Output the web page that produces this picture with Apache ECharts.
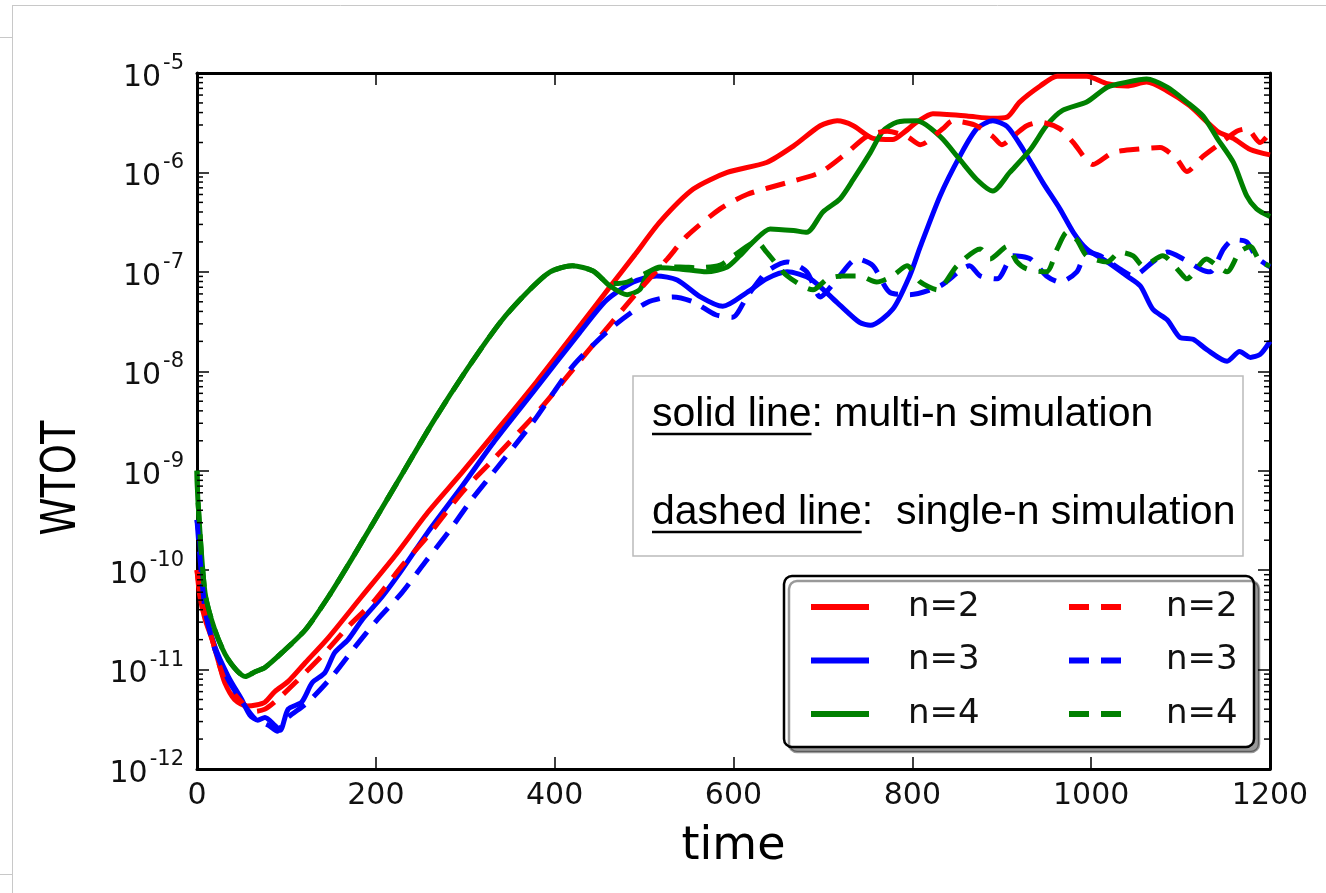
<!DOCTYPE html>
<html><head><meta charset="utf-8">
<script src="https://cdn.jsdelivr.net/npm/echarts@6/dist/echarts.min.js"></script>
<style>html,body{margin:0;padding:0;background:#fff}#chart{width:1326px;height:893px}</style>
</head><body><div id="chart"></div>
<script>
// ---- data (time, WTOT) ----
const tN2Multi = [0,3,9,17,25,31,42,56,66,76,87,102,121,147,184,221,258,296,333,380,430,462,490,518,555,593,637,667,697,716,734,756,778,790,805,823,861,890,906,920,943,962,995,1018,1040,1062,1085,1110,1141,1159,1178,1200];
const wN2Multi = [1.0e-10,5.6e-11,3.2e-11,2.0e-11,1.12e-11,7.4e-12,5.0e-12,4.3e-12,4.4e-12,4.7e-12,6.0e-12,7.6e-12,1.17e-11,2.1e-11,5.4e-11,1.38e-10,3.8e-10,9.5e-10,2.4e-9,7.9e-9,3.0e-8,7.1e-8,1.5e-7,3.2e-7,6.8e-7,1.0e-6,1.26e-6,1.84e-6,2.95e-6,3.3e-6,2.95e-6,2.2e-6,2.14e-6,2.5e-6,3.2e-6,3.9e-6,3.7e-6,3.5e-6,3.6e-6,5.1e-6,7.4e-6,9.3e-6,9.3e-6,7.8e-6,7.4e-6,8.1e-6,6.6e-6,4.7e-6,2.6e-6,2.2e-6,1.7e-6,1.5e-6];

const tN3Multi = [0,3,9,20,35,50,59,68,76,87,93,102,117,129,143,154,169,185,207,229,258,296,333,376,428,458,488,514,537,563,588,615,637,660,686,716,741,753,778,797,809,831,853,872,890,906,924,946,965,980,995,1018,1040,1055,1069,1085,1099,1114,1129,1152,1166,1178,1189,1200];
const wN3Multi = [3.2e-10,2.0e-10,4.3e-11,1.7e-11,8.5e-12,5.0e-12,3.5e-12,3.1e-12,3.3e-12,2.75e-12,2.45e-12,4.0e-12,4.7e-12,7.4e-12,9.3e-12,1.48e-11,2.0e-11,3.2e-11,5.4e-11,1.0e-10,2.4e-10,6.9e-10,2.0e-9,6.2e-9,2.45e-8,5.2e-8,7.9e-8,9.1e-8,8.3e-8,5.6e-8,4.5e-8,6.2e-8,8.5e-8,1.0e-7,8.5e-8,4.9e-8,3.1e-8,2.9e-8,4.2e-8,9.1e-8,1.8e-7,5.8e-7,1.45e-6,2.75e-6,3.3e-6,2.9e-6,1.7e-6,7.9e-7,4.3e-7,2.5e-7,1.7e-7,1.26e-7,9.1e-8,7.2e-8,4.2e-8,3.3e-8,2.2e-8,2.1e-8,1.66e-8,1.26e-8,1.58e-8,1.38e-8,1.48e-8,2.0e-8];

const tN4Multi = [0,1,9,20,35,54,65,76,95,121,147,173,199,229,264,302,339,369,395,420,443,462,481,495,503,518,540,570,593,607,622,641,667,682,700,719,734,753,767,783,805,831,853,872,890,909,932,950,968,995,1018,1040,1062,1085,1107,1125,1141,1159,1174,1185,1200];
const wN4Multi = [1.0e-9,5.1e-10,5.9e-11,2.5e-11,1.26e-11,8.5e-12,9.5e-12,1.05e-11,1.48e-11,2.5e-11,5.4e-11,1.29e-10,3.2e-10,9.1e-10,3.1e-9,1.05e-8,3.1e-8,6.2e-8,1.0e-7,1.15e-7,1.02e-7,7.2e-8,5.9e-8,6.6e-8,9.1e-8,1.1e-7,1.07e-7,1.0e-7,1.12e-7,1.45e-7,2.0e-7,2.7e-7,2.6e-7,2.5e-7,4.0e-7,5.4e-7,8.5e-7,1.58e-6,2.6e-6,3.2e-6,3.3e-6,2.3e-6,1.35e-6,8.5e-7,6.5e-7,1.0e-6,1.7e-6,2.95e-6,4.2e-6,5.1e-6,7.2e-6,8.1e-6,8.7e-6,7.2e-6,5.1e-6,3.7e-6,2.2e-6,1.26e-6,5.8e-7,4.3e-7,3.6e-7];

const tN2Single = [0,5,17,31,50,65,76,90,110,143,169,199,229,258,296,330,384,436,488,526,548,585,615,660,697,727,749,772,794,809,834,845,870,890,900,915,928,943,965,980,1002,1024,1047,1077,1096,1107,1125,1144,1163,1174,1189,1200];
const wN2Single = [1.0e-10,5.0e-11,2.0e-11,7.9e-12,4.7e-12,3.8e-12,4.0e-12,5.0e-12,7.4e-12,1.48e-11,2.7e-11,5.0e-11,1.1e-10,2.2e-10,6.0e-10,1.26e-9,4.2e-9,1.55e-8,5.6e-8,1.35e-7,2.3e-7,4.3e-7,6.0e-7,7.9e-7,1.0e-6,1.58e-6,2.3e-6,2.6e-6,2.3e-6,1.9e-6,2.75e-6,3.3e-6,3.0e-6,2.3e-6,1.9e-6,2.4e-6,2.95e-6,3.2e-6,2.75e-6,2.0e-6,1.2e-6,1.58e-6,1.7e-6,1.78e-6,1.35e-6,1.02e-6,1.45e-6,1.95e-6,2.6e-6,2.75e-6,2.0e-6,2.5e-6];

const tN3Single = [0,9,20,35,50,65,80,90,98,124,151,177,202,229,255,281,307,331,376,420,465,503,532,555,580,599,615,637,660,682,697,716,738,756,775,797,831,864,876,895,913,932,950,965,984,995,1010,1032,1047,1069,1085,1103,1122,1133,1148,1159,1174,1185,1200];
const wN3Single = [3.2e-10,4.0e-11,1.6e-11,7.9e-12,4.8e-12,3.2e-12,2.75e-12,2.4e-12,3.1e-12,4.7e-12,8.5e-12,1.7e-11,3.2e-11,5.9e-11,1.2e-10,2.4e-10,5.1e-10,9.5e-10,3.1e-9,1.12e-8,2.8e-8,4.9e-8,5.6e-8,5.0e-8,3.7e-8,3.5e-8,5.6e-8,1.0e-7,1.26e-7,1.0e-7,5.6e-8,8.5e-8,1.35e-7,1.15e-7,6.2e-8,5.9e-8,7.2e-8,1.15e-7,9.1e-8,8.5e-8,1.45e-7,1.35e-7,9.1e-8,7.9e-8,1.0e-7,1.58e-7,1.45e-7,1.07e-7,9.1e-8,1.26e-7,1.58e-7,1.35e-7,1.07e-7,1.0e-7,1.7e-7,2.1e-7,2.0e-7,1.4e-7,1.12e-7];

const tN4Single = [0,1,9,20,35,54,65,76,95,121,147,173,199,229,264,302,339,369,395,420,443,462,481,500,518,540,560,585,600,626,637,660,689,705,722,741,760,778,794,809,828,850,876,887,906,917,928,950,962,973,984,995,1018,1032,1047,1058,1080,1099,1107,1129,1141,1152,1166,1178,1189,1200];
const wN4Single = [1.0e-9,5.1e-10,5.9e-11,2.5e-11,1.26e-11,8.5e-12,9.5e-12,1.05e-11,1.48e-11,2.5e-11,5.4e-11,1.29e-10,3.2e-10,9.1e-10,3.1e-9,1.05e-8,3.1e-8,6.2e-8,1.0e-7,1.15e-7,1.02e-7,7.6e-8,7.9e-8,9.5e-8,1.12e-7,1.12e-7,1.1e-7,1.17e-7,1.45e-7,2.0e-7,1.58e-7,9.1e-8,6.6e-8,8.5e-8,9.1e-8,9.1e-8,7.9e-8,9.1e-8,1.15e-7,7.9e-8,6.6e-8,1.15e-7,1.7e-7,1.35e-7,1.8e-7,1.26e-7,1.07e-7,1.0e-7,1.7e-7,2.5e-7,2.1e-7,1.45e-7,1.26e-7,1.58e-7,1.45e-7,1.15e-7,1.45e-7,1.0e-7,8.5e-8,1.35e-7,1.15e-7,1.0e-7,1.58e-7,1.8e-7,1.26e-7,1.15e-7];

const yMinorTickValues = [];
[1e-12,1e-11,1e-10,1e-9,1e-8,1e-7,1e-6].forEach(function (d) {
  [2,3,4,5,6,7,8,9].forEach(function (k) { yMinorTickValues.push(+(k * d).toPrecision(3)); });
});

const legendNames = ['n=2', 'n=3', 'n=4'];
const boxLine1 = ['solid line', ': multi-n simulation'];
const boxLine2 = ['dashed line', ':  single-n simulation'];

// ---- build ----
function zip(t, w) { return t.map(function (v, i) { return [v, w[i]]; }); }
const RED = '#ff0000', BLUE = '#0000ff', GREEN = '#008000';
const DASH = [20, 12];

function lineSeries(name, t, w, color, dashed) {
  return {
    type: 'line', name: name, data: zip(t, w), showSymbol: false, symbol: 'none',
    smooth: 0.25, animation: false, z: 3,
    itemStyle: { color: color },
    lineStyle: { color: color, width: 5, type: dashed ? DASH : 'solid' }
  };
}

const ctx = document.createElement('canvas').getContext('2d');
const BOXFONT = '41px "Liberation Sans", Arial, sans-serif';
ctx.font = BOXFONT;
const wSolid = ctx.measureText(boxLine1[0]).width;
const wDashed = ctx.measureText(boxLine2[0]).width;

const chart = echarts.init(document.getElementById('chart'), null, { renderer: 'canvas' });
const axisLineStyle = { show: true, onZero: false, lineStyle: { color: '#000', width: 3 } };
const majorTick = { show: true, inside: true, length: 12, lineStyle: { color: '#000', width: 1.5 } };
const txtX = 652;
const legendCommon = {
  orient: 'vertical', top: 590, padding: 0, itemGap: 19.5,
  itemWidth: 58, itemHeight: 14, z: 30, selectedMode: false,
  itemStyle: { opacity: 0, borderWidth: 0 },
  lineStyle: { width: 6 },
  formatter: function (n) { return n.trim(); },
  textStyle: { fontSize: 34, lineHeight: 34, fontFamily: 'DejaVu Sans', color: '#111', padding: [0, 0, 0, 34] }
};

const option = {
  animation: false,
  backgroundColor: '#fff',
  grid: { left: 197, right: 56, top: 73, bottom: 124, containLabel: false },
  xAxis: [
    { type: 'value', min: 0, max: 1200, interval: 200, position: 'bottom',
      axisLine: axisLineStyle, axisTick: majorTick, splitLine: { show: false },
      axisLabel: { fontSize: 30, fontFamily: 'DejaVu Sans', color: '#111', margin: 12, showMinLabel: true, showMaxLabel: true,
        formatter: function (v) { return String(v); } },
      name: 'time', nameLocation: 'middle', nameGap: 55,
      nameTextStyle: { fontSize: 46, fontFamily: 'DejaVu Sans', color: '#000' } },
    { type: 'value', min: 0, max: 1200, interval: 200, position: 'top',
      axisLine: axisLineStyle, axisTick: majorTick, splitLine: { show: false }, axisLabel: { show: false } }
  ],
  yAxis: [
    { type: 'log', logBase: 10, min: 1e-12, max: 1e-5, splitNumber: 7, position: 'left',
      axisLine: axisLineStyle, axisTick: majorTick, splitLine: { show: false },
      axisLabel: {
        margin: 13, showMinLabel: true, showMaxLabel: true, hideOverlap: false,
        formatter: function (v) { return '{b|10}{s|' + Math.round(Math.log10(v)) + '}'; },
        rich: {
          b: { fontSize: 30, fontFamily: 'DejaVu Sans', color: '#111', lineHeight: 40, verticalAlign: 'bottom' },
          s: { fontSize: 21, fontFamily: 'DejaVu Sans', color: '#111', lineHeight: 20, verticalAlign: 'top', padding: [0, 0, 0, 2] }
        }
      } },
    { type: 'log', logBase: 10, min: 1e-12, max: 1e-5, splitNumber: 7, position: 'right',
      axisLine: axisLineStyle, axisTick: majorTick, splitLine: { show: false }, axisLabel: { show: false } }
  ],
  legend: [
    Object.assign({ data: legendNames, left: 808 }, legendCommon),
    Object.assign({ data: legendNames.map(function (n) { return n + ' '; }), left: 1066 }, legendCommon)
  ],
  series: [
    lineSeries('n=2', tN2Multi, wN2Multi, RED, false),
    lineSeries('n=3', tN3Multi, wN3Multi, BLUE, false),
    lineSeries('n=4', tN4Multi, wN4Multi, GREEN, false),
    lineSeries('n=2 ', tN2Single, wN2Single, RED, true),
    lineSeries('n=3 ', tN3Single, wN3Single, BLUE, true),
    lineSeries('n=4 ', tN4Single, wN4Single, GREEN, true),
    { type: 'custom', name: 'minor ticks', coordinateSystem: 'cartesian2d', silent: true, clip: false, z: 6,
      data: yMinorTickValues.map(function (v) { return [0, v]; }),
      renderItem: function (params, api) {
        const y = api.coord([0, api.value(1)])[1];
        const cs = params.coordSys;
        const xl = cs.x, xr = cs.x + cs.width;
        return { type: 'group', children: [
          { type: 'line', shape: { x1: xl, y1: y, x2: xl + 6, y2: y }, style: { stroke: '#000', lineWidth: 1.5 } },
          { type: 'line', shape: { x1: xr - 6, y1: y, x2: xr, y2: y }, style: { stroke: '#000', lineWidth: 1.5 } }
        ] };
      } }
  ],
  graphic: [
    { type: 'line', shape: { x1: 12.5, y1: 5, x2: 12.5, y2: 893 }, style: { stroke: '#c8c8c8', lineWidth: 1 }, silent: true },
    { type: 'line', shape: { x1: 12, y1: 5.5, x2: 1326, y2: 5.5 }, style: { stroke: '#c8c8c8', lineWidth: 1 }, silent: true },
    { type: 'line', shape: { x1: 0, y1: 37.5, x2: 12, y2: 37.5 }, style: { stroke: '#c8c8c8', lineWidth: 1 }, silent: true },
    { type: 'line', shape: { x1: 0, y1: 874.5, x2: 12, y2: 874.5 }, style: { stroke: '#c8c8c8', lineWidth: 1 }, silent: true },
    { type: 'text', x: 63, y: 478, rotation: Math.PI / 2, scaleX: 0.8, silent: true, z: 20,
      style: { text: 'WTOT', font: '48px "DejaVu Sans"', fill: '#000', align: 'center', verticalAlign: 'middle' } },
    // annotation box
    { type: 'rect', shape: { x: 633, y: 376, width: 610, height: 180 }, z: 20, silent: true,
      style: { fill: '#fff', stroke: '#bbbbbb', lineWidth: 1.5 } },
    { type: 'text', x: txtX, y: 415, z: 21, silent: true,
      style: { text: boxLine1[0], font: BOXFONT, fill: '#000', align: 'left', verticalAlign: 'middle' } },
    { type: 'text', x: txtX + wSolid, y: 415, z: 21, silent: true,
      style: { text: boxLine1[1], font: BOXFONT, fill: '#000', align: 'left', verticalAlign: 'middle' } },
    { type: 'line', z: 21, silent: true, shape: { x1: txtX, y1: 434, x2: txtX + wSolid, y2: 434 }, style: { stroke: '#000', lineWidth: 2.5 } },
    { type: 'text', x: txtX, y: 513, z: 21, silent: true,
      style: { text: boxLine2[0], font: BOXFONT, fill: '#000', align: 'left', verticalAlign: 'middle' } },
    { type: 'text', x: txtX + wDashed, y: 513, z: 21, silent: true,
      style: { text: boxLine2[1], font: BOXFONT, fill: '#000', align: 'left', verticalAlign: 'middle' } },
    { type: 'line', z: 21, silent: true, shape: { x1: txtX, y1: 532, x2: txtX + wDashed, y2: 532 }, style: { stroke: '#000', lineWidth: 2.5 } },
    // legend frame
    { type: 'rect', shape: { x: 784, y: 576, width: 470, height: 171, r: 8 }, z: 25, silent: true,
      style: { fill: '#fff', stroke: '#000', lineWidth: 2.5, shadowColor: 'rgba(0,0,0,0.4)', shadowBlur: 0, shadowOffsetX: 5, shadowOffsetY: 5 } }
  ]
};
chart.setOption(option);
</script>
</body></html>
